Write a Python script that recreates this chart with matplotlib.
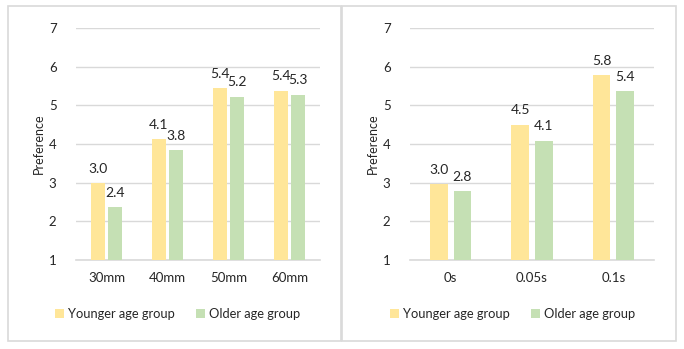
import numpy as np
import matplotlib.pyplot as plt
from matplotlib.patches import Rectangle

# data
size_labels = ["30mm", "40mm", "50mm", "60mm"]
size_young = [2.98, 4.12, 5.44, 5.38]
size_old = [2.36, 3.84, 5.22, 5.27]

delay_labels = ["0s", "0.05s", "0.1s"]
delay_young = [2.96, 4.50, 5.78]
delay_old = [2.78, 4.08, 5.37]

YELLOW = "#FFE699"
GREEN = "#C5E0B4"
GRID = "#D9D9D9"
TEXT = "#262626"

plt.rcParams["font.family"] = ["Lato", "DejaVu Sans"]

W, H = 684, 349
fig = plt.figure(figsize=(W / 100, H / 100), dpi=100)


def px_axes(x0, x1, ytop, ybot):
    return fig.add_axes([x0 / W, 1 - ybot / H, (x1 - x0) / W, (ybot - ytop) / H])


def panel_border(x0, x1, ytop, ybot):
    fig.patches.append(Rectangle((x0 / W, 1 - ybot / H), (x1 - x0) / W, (ybot - ytop) / H,
                                 transform=fig.transFigure, fill=False,
                                 edgecolor=GRID, linewidth=1.2))


def grouped_bars(ax, cats, young, old, width, gap, legend_x):
    x = np.arange(len(cats))
    off = (width + gap) / 2
    b1 = ax.bar(x - off, young, width, color=YELLOW, label="Younger age group", zorder=3)
    b2 = ax.bar(x + off, old, width, color=GREEN, label="Older age group", zorder=3)
    for bars, vals in ((b1, young), (b2, old)):
        for r, v in zip(bars, vals):
            ax.annotate(f"{v:.1f}", (r.get_x() + r.get_width() / 2, v),
                        xytext=(0, 7.5), textcoords="offset points",
                        ha="center", va="baseline", fontsize=10, color=TEXT)
    ax.set_ylim(1, 7)
    ax.set_xlim(-0.5, len(cats) - 0.5)
    ax.set_yticks(range(1, 8))
    ax.set_xticks(x)
    ax.set_xticklabels(cats)
    ax.tick_params(length=0, labelsize=9.5, colors=TEXT, pad=9)
    ax.tick_params(axis="y", pad=14)
    ax.grid(axis="y", color=GRID, linewidth=1, zorder=0)
    for s in ("top", "right", "left"):
        ax.spines[s].set_visible(False)
    ax.spines["bottom"].set_color(GRID)
    ax.spines["bottom"].set_linewidth(1.2)
    ax.set_ylabel("Preference", fontsize=9, color=TEXT, labelpad=3)
    ax.legend(loc="center", bbox_to_anchor=(legend_x, -0.233), ncol=2, frameon=False,
              fontsize=9.3, handlelength=0.7, handleheight=0.7, handletextpad=0.3,
              columnspacing=1.7, labelcolor=TEXT)
    ax.set_facecolor("none")


panel_border(8, 341, 6, 341)
panel_border(342, 676, 6, 341)

ax1 = px_axes(76, 320, 28, 260)
grouped_bars(ax1, size_labels, size_young, size_old, 0.23, 0.05, 0.416)

ax2 = px_axes(410, 654, 28, 260)
grouped_bars(ax2, delay_labels, delay_young, delay_old, 0.22, 0.07, 0.42)

fig.savefig("out.png", dpi=100)
